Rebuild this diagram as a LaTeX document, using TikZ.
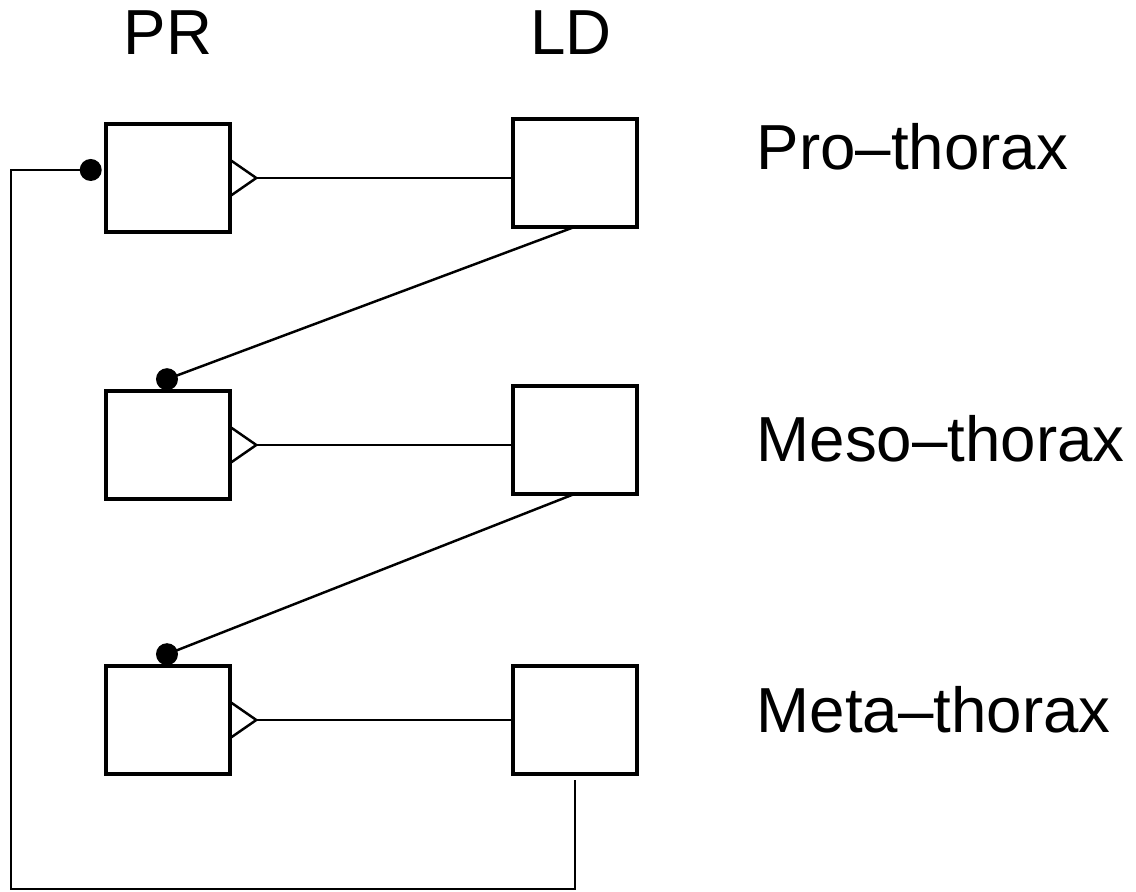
\documentclass[tikz,border=0pt]{standalone}
\usepackage{fontspec}
\setmainfont{Liberation Sans}
\begin{document}
\begin{tikzpicture}[x=0.01cm,y=-0.01cm,
  seg/.style={draw,line width=1.15pt,minimum width=1.245cm,minimum height=1.075cm,inner sep=0,outer sep=0},
  wire/.style={line width=0.7pt},
  lbl/.style={inner sep=0,font=\fontsize{18.1}{21}\selectfont},
  junction/.style={circle,fill,inner sep=0,minimum size=0.22cm}]
\useasboundingbox (0,0) rectangle (1136,892);

% column headings
\node[lbl,anchor=base] (hpr) at (168,55) {PR};
\node[lbl,anchor=base] (hld) at (571,55) {LD};

% segment labels
\node[lbl,anchor=base west] (lpro) at (756,170) {Pro–thorax};
\node[lbl,anchor=base west] (lmeso) at (756,462) {Meso–thorax};
\node[lbl,anchor=base west] (lmeta) at (756,733) {Meta–thorax};

% PR and LD units per segment
\node[seg] (pr1) at (168,178) {};
\node[seg] (ld1) at (575,173) {};
\node[seg] (pr2) at (168,445) {};
\node[seg] (ld2) at (575,440) {};
\node[seg] (pr3) at (168,720) {};
\node[seg] (ld3) at (575,720) {};

% excitatory outputs PR -> LD (open triangles)
\foreach \i in {1,2,3}{
  \coordinate (t\i) at ([xshift=0.26cm]pr\i.east);
  \draw[wire] ([yshift=0.18cm]pr\i.east) -- (t\i) -- ([yshift=-0.18cm]pr\i.east);
  \draw[wire] (t\i) -- (t\i -| ld\i.west);
}

% inhibitory inputs (filled dots)
\node[junction] (d1) at ([xshift=-0.15cm,yshift=0.08cm]pr1.west) {};
\node[junction] (d2) at ([xshift=-0.01cm,yshift=0.12cm]pr2.north) {};
\node[junction] (d3) at ([xshift=-0.01cm,yshift=0.12cm]pr3.north) {};

\draw[wire] (ld1.south) -- (d2.center);
\draw[wire] (ld2.south) -- (d3.center);

% feedback loop from the last LD back to the first PR
\coordinate (lc) at (11,889);
\coordinate (le) at ([yshift=-0.06cm]ld3.south);
\draw[wire] (d1.center) -- (d1 -| lc) -- (lc) -| (le);
\end{tikzpicture}
\end{document}
